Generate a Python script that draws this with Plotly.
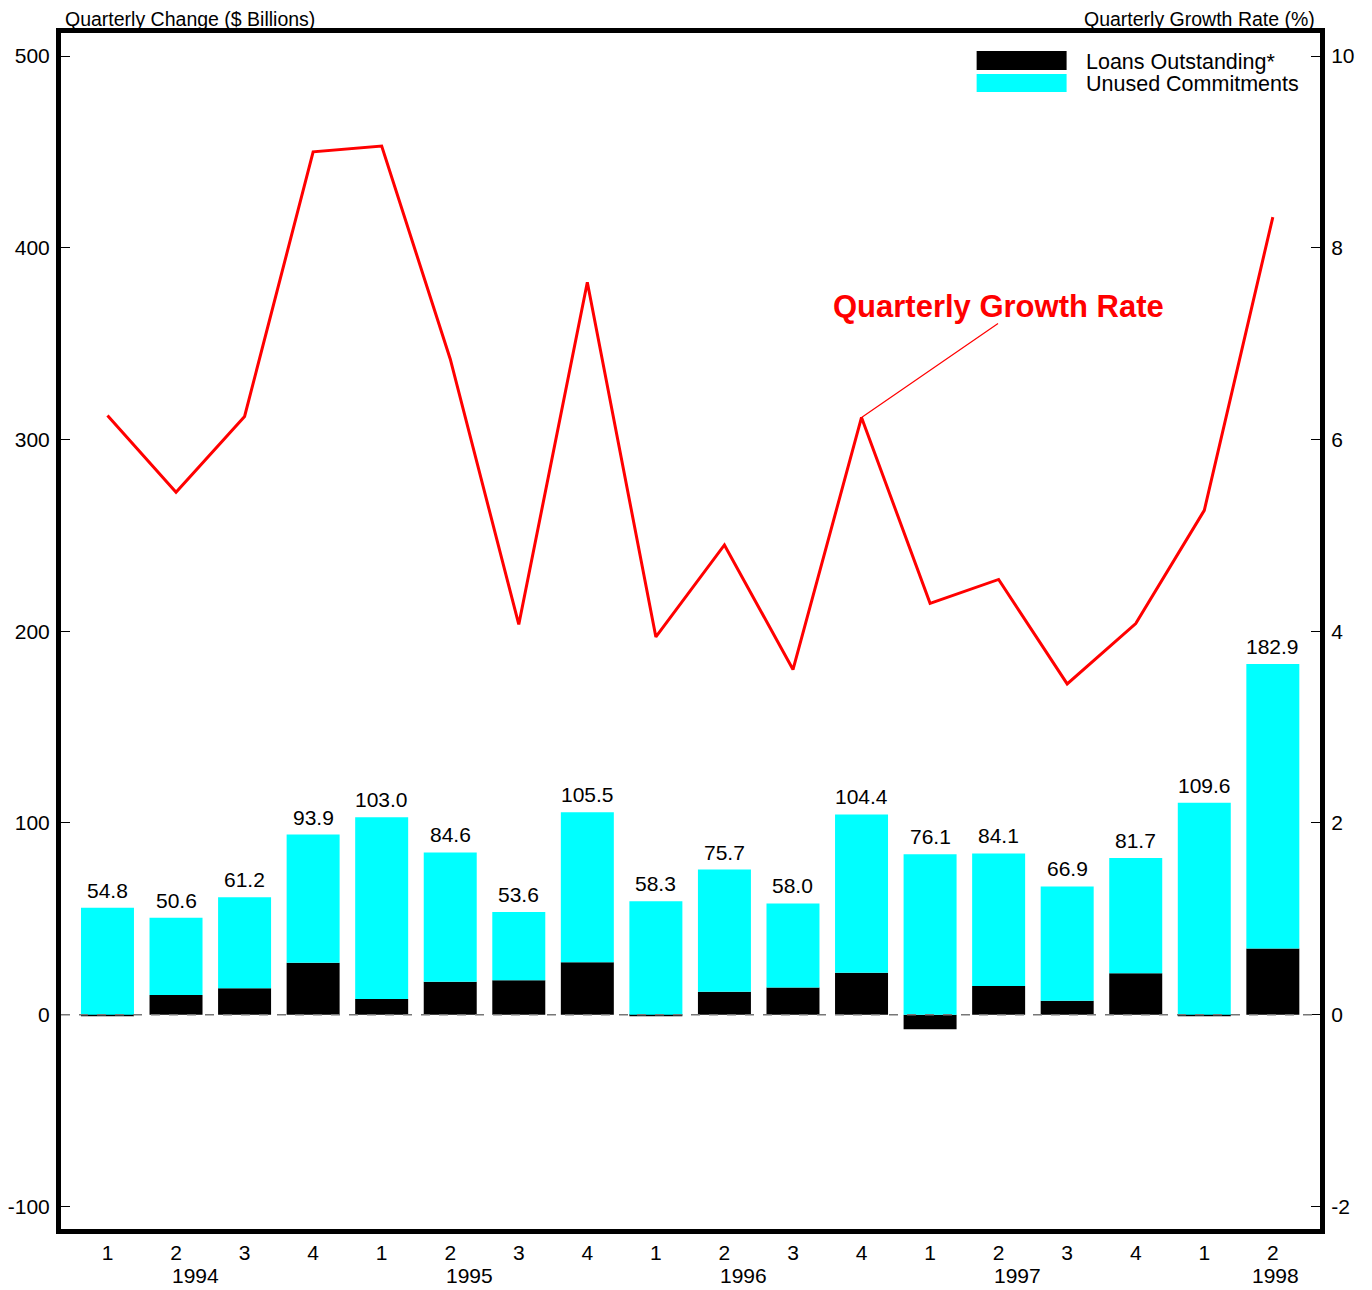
import plotly.graph_objects as go

quarters = ["1", "2", "3", "4", "1", "2", "3", "4", "1", "2", "3", "4", "1", "2", "3", "4", "1", "2"]
years = ["1994", "1995", "1996", "1997", "1998"]
year_pos = [1.29, 5.28, 9.28, 13.28, 17.04]
totals = [54.8, 50.6, 61.2, 93.9, 103.0, 84.6, 53.6, 105.5, 58.3, 75.7, 58.0, 104.4,
          76.1, 84.1, 66.9, 81.7, 109.6, 182.9]
loans = [-0.9, 10.3, 13.8, 27.1, 8.2, 17.2, 17.9, 27.3, -0.9, 12.0, 14.2, 21.9,
         -7.6, 15.0, 7.3, 21.6, -0.9, 34.5]
unused = [round(t - l, 1) for t, l in zip(totals, loans)]
growth = [6.25, 5.45, 6.24, 9.00, 9.06, 6.84, 4.07, 7.64, 3.94, 4.90, 3.60, 6.23,
          4.29, 4.54, 3.45, 4.08, 5.26, 8.32]
left_ticks = [-100, 0, 100, 200, 300, 400, 500]
left_ticktext = ["-100", "0", "100", "200", "300", "400", "500"]
right_ticks = [-2, 0, 2, 4, 6, 8, 10]
right_ticktext = ["-2", "0", "2", "4", "6", "8", "10"]

FONT = "Liberation Sans, Arial, sans-serif"
OFF = 8  # default body margin of the written page
W, H = 1356, 1282
L, T = 61 - OFF, 33 - OFF
R = W - (1320.5 - OFF)
B = H - (1229.5 - OFF)
PW, PH = W - L - R, H - T - B


def px(x):
    return (x - OFF - L) / PW


def py(y):
    return (H - B - (y - OFF)) / PH


xs = list(range(len(quarters)))
# label sits on top of the positive part of each stack
stack_top = [u + max(l, 0) for u, l in zip(unused, loans)]

fig = go.Figure()
fig.add_trace(go.Bar(x=xs, y=loans, marker=dict(color="black", line=dict(width=0)),
                     width=0.773, name="Loans Outstanding*", showlegend=False))
fig.add_trace(go.Bar(x=xs, y=unused, marker=dict(color="#00FFFF", line=dict(width=0)),
                     width=0.773, name="Unused Commitments", showlegend=False))
fig.add_trace(go.Scatter(x=xs, y=growth, yaxis="y2", mode="lines",
                         line=dict(color="#FF0000", width=3), showlegend=False))

annotations = []
for i, (t, top) in enumerate(zip(totals, stack_top)):
    annotations.append(dict(x=i, y=top, xref="x", yref="y", text=f"{t:.1f}", showarrow=False,
                            yanchor="bottom", yshift=4, font=dict(size=21, family=FONT, color="black")))
for yr, p in zip(years, year_pos):
    annotations.append(dict(x=p, y=0, xref="x", yref="paper", text=yr, showarrow=False,
                            yanchor="middle", yshift=-(1276 - 1229.5), font=dict(size=21, family=FONT, color="black")))

annotations += [
    dict(x=0, y=1, xref="paper", yref="paper", xanchor="left", yanchor="middle", xshift=2, yshift=33 - 19,
         text="Quarterly Change ($ Billions)", showarrow=False, font=dict(size=19.5, family=FONT, color="black")),
    dict(x=1, y=1, xref="paper", yref="paper", xanchor="right", yanchor="middle", xshift=-3, yshift=33 - 19,
         text="Quarterly Growth Rate (%)", showarrow=False, font=dict(size=19.5, family=FONT, color="black")),
    dict(x=px(1084), y=py(62), xref="paper", yref="paper", xanchor="left", yanchor="middle",
         text="Loans Outstanding*", showarrow=False, font=dict(size=21.5, family=FONT, color="black")),
    dict(x=px(1084), y=py(84), xref="paper", yref="paper", xanchor="left", yanchor="middle",
         text="Unused Commitments", showarrow=False, font=dict(size=21.5, family=FONT, color="black")),
    dict(x=px(999), y=py(307), xref="paper", yref="paper", xanchor="center", yanchor="middle",
         text="<b>Quarterly Growth Rate</b>", showarrow=False, font=dict(size=31, family=FONT, color="#FF0000")),
    dict(x=11, y=growth[11], xref="x", yref="y2", text="", showarrow=True, arrowhead=0,
         arrowwidth=1.2, arrowcolor="#FF0000", ax=138, ay=-95, standoff=0, startstandoff=0),
]

shapes = [
    dict(type="line", xref="paper", yref="y", x0=0, x1=1, y0=0, y1=0,
         line=dict(color="#777777", width=1.5, dash="dash"), layer="above"),
    dict(type="rect", xref="paper", yref="paper", x0=px(977), x1=px(1067), y0=py(70), y1=py(51),
         fillcolor="black", line=dict(width=0)),
    dict(type="rect", xref="paper", yref="paper", x0=px(977), x1=px(1067), y0=py(92), y1=py(74),
         fillcolor="#00FFFF", line=dict(width=0)),
]

fig.update_layout(
    width=W, height=H,
    margin=dict(l=L, r=R, t=T, b=B, autoexpand=False),
    paper_bgcolor="white", plot_bgcolor="white",
    barmode="relative", bargap=0.227,
    font=dict(family=FONT, color="black"),
    annotations=annotations, shapes=shapes,
    xaxis=dict(range=[-0.678, 17.688], tickmode="array", tickvals=xs, ticktext=quarters,
               showgrid=False, zeroline=False, showline=True, linecolor="black", linewidth=5,
               mirror=True, ticks="", automargin=False, ticklabelstandoff=1,
               tickfont=dict(size=21, family=FONT, color="black")),
    yaxis=dict(range=[-111.8, 512], tickmode="array", tickvals=left_ticks, ticktext=left_ticktext,
               showgrid=False, zeroline=False, showline=True, linecolor="black", linewidth=5,
               mirror=True, ticks="inside", ticklen=9, tickwidth=1, tickcolor="black", automargin=False,
               ticklabelstandoff=2, tickfont=dict(size=21, family=FONT, color="black")),
    yaxis2=dict(range=[-2.236, 10.24], overlaying="y", side="right", tickmode="array",
                tickvals=right_ticks, ticktext=right_ticktext, showgrid=False, zeroline=False,
                showline=True, linecolor="black", linewidth=5, automargin=False,
                ticks="inside", ticklen=9, tickwidth=1, tickcolor="black", ticklabelstandoff=2,
                tickfont=dict(size=21, family=FONT, color="black")),
)

fig.write_html("out.html")
